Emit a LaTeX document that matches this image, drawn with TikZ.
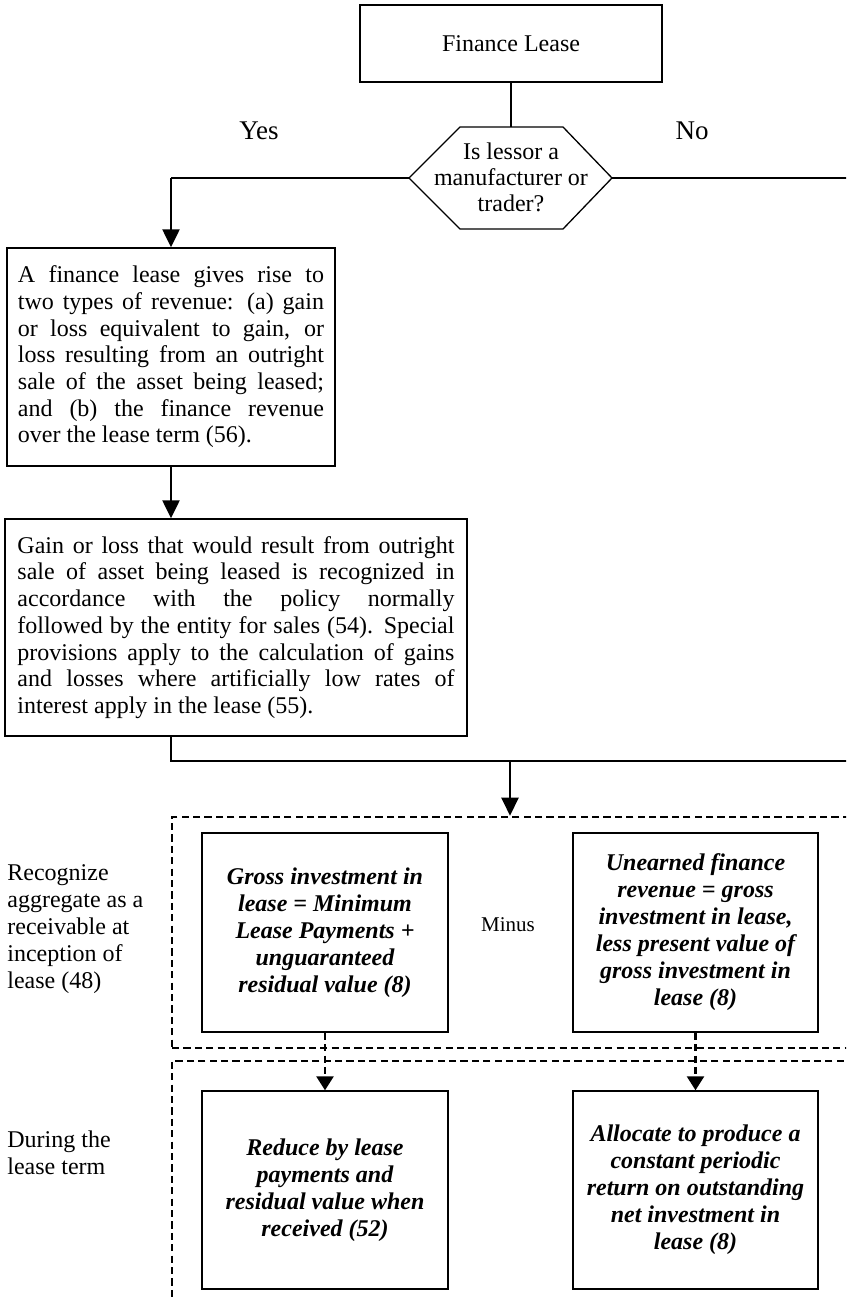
\documentclass[tikz,border=0pt]{standalone}
\usepackage{fontspec}
\setmainfont{Liberation Serif}
\usetikzlibrary{arrows.meta}
\begin{document}
\begin{tikzpicture}[x=0.5pt,y=-0.5pt,
  box/.style={draw,line width=0.7pt,inner sep=0pt,anchor=center},
  bodytext/.style={font={\fontsize{12}{13.35}\selectfont}},
  emtext/.style={font={\fontsize{12}{13.5}\selectfont\bfseries\itshape},align=center},
  thinline/.style={line width=0.65pt},
  arr/.style={line width=1.2pt,-{Triangle[length=9pt,width=8.5pt]}},
  dashbox/.style={draw,line width=1.3pt,dash pattern=on 3.6pt off 2.1pt,inner sep=0pt},
  dasharr/.style={line width=1.3pt,dash pattern=on 3.6pt off 2.1pt,-{Triangle[length=7pt,width=8.5pt]}},
  lbl/.style={font={\fontsize{12}{13.5}\selectfont},align=left,anchor=west,inner sep=0pt}
]
\clip (0,0) rectangle (846,1300);
\fill[white] (0,0) rectangle (846,1300);

% Finance Lease
\node[box,minimum width=151pt,minimum height=38.5pt,bodytext] (fl) at (511,43.5) {Finance Lease};

% Hexagon decision
\coordinate (qL) at (409,178);
\coordinate (qR) at (612,178);
\coordinate (qT) at (511,127);
\draw[line width=0.65pt] (qL) -- (460,127) -- (563,127) -- (qR) -- (563,229) -- (460,229) -- cycle;
\node[align=center,inner sep=0pt,font={\fontsize{12}{13}\selectfont}] (q) at (511,177) {Is lessor a\\manufacturer or\\trader?};

\node[font={\fontsize{13.5}{15}\selectfont}] (yes) at (259,131) {Yes};
\node[font={\fontsize{13.5}{15}\selectfont}] (no) at (692,131) {No};

% Box 1
\node[box,minimum width=164pt,minimum height=109pt,text width=153pt,align=justify,bodytext] (b1) at (171,357)
{\tolerance=10000 A finance lease gives rise to\linebreak two types of revenue: (a) gain\linebreak or loss equivalent to gain, or\linebreak loss resulting from an outright\linebreak sale of the asset being leased;\linebreak and (b) the finance revenue\linebreak over the lease term (56).};

% Box 2
\node[box,minimum width=231pt,minimum height=108.5pt,text width=218.5pt,align=justify,bodytext] (b2) at (236,627.5)
{\tolerance=10000 Gain or loss that would result from outright\linebreak sale of asset being leased is recognized in\linebreak accordance with the policy normally\linebreak followed by the entity for sales (54). Special\linebreak provisions apply to the calculation of gains\linebreak and losses where artificially low rates of\linebreak interest apply in the lease (55).};

% Connectors top part
\draw[thinline] (fl.south) -- (qT);
\draw[thinline] (qL) -- (b1.north |- qL);
\draw[arr] (b1.north |- qL) -- (b1.north);
\coordinate (noEnd) at (860,178);
\draw[thinline] (qR) -- (noEnd);
\draw[arr] (b1.south) -- (b1.south |- b2.north);

\coordinate (jy) at (0,761);
\coordinate (jr) at (860,761);
\coordinate (ja) at (510,761);
\draw[line width=0.8pt] (b1.south |- b2.south) -- (b1.south |- jy) -- (jr);

% Dashed regions
\node[dashbox,minimum width=354pt,minimum height=115.5pt] (d1) at (526,932.5) {};
\node[dashbox,minimum width=354pt,minimum height=129.5pt] (d2) at (526,1190.5) {};

\draw[arr] (ja) -- (ja |- d1.north);

% Inner boxes
\node[box,minimum width=123pt,minimum height=99.5pt,emtext] (g) at (325,932.5)
{Gross investment in\\lease = Minimum\\Lease Payments +\\unguaranteed\\residual value (8)};
\node[box,minimum width=122.5pt,minimum height=99.5pt,emtext] (u) at (695.5,932.5)
{Unearned finance\\revenue = gross\\investment in lease,\\less present value of\\gross investment in\\lease (8)};
\node[font={\fontsize{10.5}{12}\selectfont}] (minus) at (508,925) {Minus};

\node[box,minimum width=123pt,minimum height=99pt,emtext] (r) at (325,1190)
{Reduce by lease\\payments and\\residual value when\\received (52)};
\node[box,minimum width=122.5pt,minimum height=99pt,emtext] (a) at (695.5,1190)
{Allocate to produce a\\constant periodic\\return on outstanding\\net investment in\\lease (8)};

\draw[dasharr] (g.south) -- (r.north);
\draw[dasharr] (u.south) -- (a.north);

% Left labels
\node[lbl] (l1) at (7,929) {Recognize\\aggregate as a\\receivable at\\inception of\\lease (48)};
\node[lbl] (l2) at (7,1153) {During the\\lease term};
\end{tikzpicture}
\end{document}
